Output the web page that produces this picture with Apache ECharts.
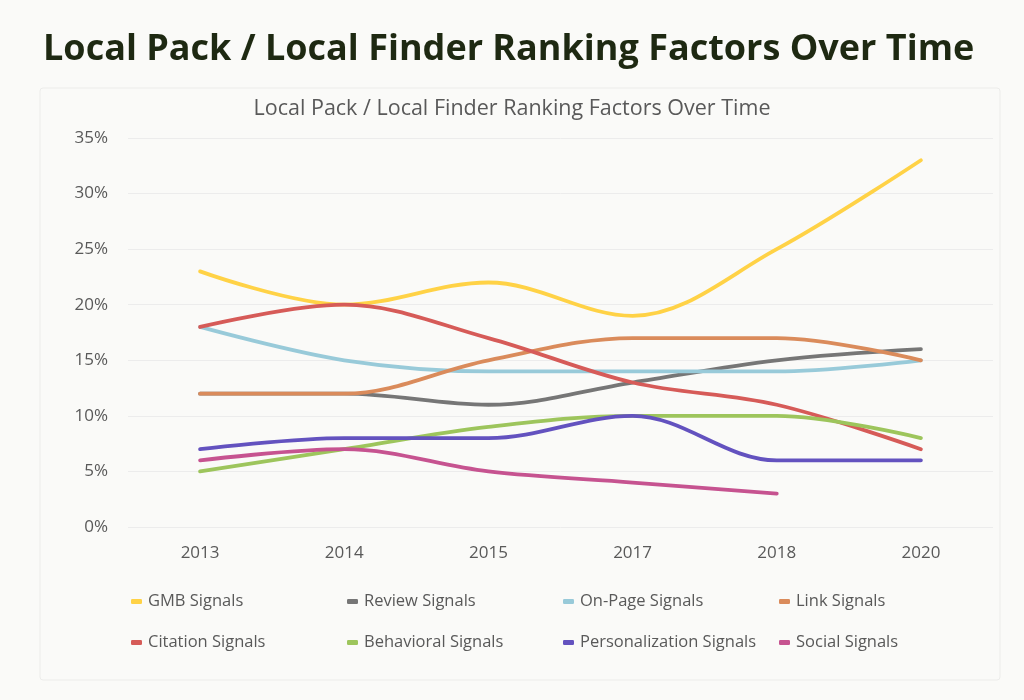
<!DOCTYPE html>
<html><head><meta charset="utf-8">
<script src="https://cdn.jsdelivr.net/npm/echarts@6/dist/echarts.min.js"></script>
<style>html,body{margin:0;padding:0;background:#fafaf8;}#c{width:1024px;height:700px;}</style>
</head><body><div id="c"></div>
<script>
const categories = ['2013','2014','2015','2017','2018','2020'];
const seriesNames = ['GMB Signals','Review Signals','On-Page Signals','Link Signals','Citation Signals','Behavioral Signals','Personalization Signals','Social Signals'];
const gmb = [23, 20, 22, 19, 25, 33];
const review = [12, 12, 11, 13, 15, 16];
const onPage = [18, 15, 14, 14, 14, 15];
const link = [12, 12, 15, 17, 17, 15];
const citation = [18, 20, 17, 13, 11, 7];
const behavioral = [5, 7, 9, 10, 10, 8];
const personalization = [7, 8, 8, 10, 6, 6];
const social = [6, 7, 5, 4, 3, null];
const colors = ['#FFD246','#767676','#98CAD9','#DA8B5B','#D65B58','#9DC55C','#6352BF','#C65390'];
const values = [gmb, review, onPage, link, citation, behavioral, personalization, social];
const font = '"Open Sans", sans-serif';
const legendCols = [126, 342, 558, 774];
const legendRows = [588, 629];
const chart = echarts.init(document.getElementById('c'));
chart.setOption({
  backgroundColor: '#fafaf8',
  graphic: [{type:'rect', shape:{x:40,y:88,width:960,height:592,r:3}, style:{fill:'#fafaf8', stroke:'#ececea', lineWidth:1}, z:-10}],
  title: [
    {text:'Local Pack / Local Finder Ranking Factors Over Time', left:38, top:27, textStyle:{fontFamily:font, fontWeight:'bold', fontSize:36, color:'#1e2912'}},
    {text:'Local Pack / Local Finder Ranking Factors Over Time', left:'center', top:93, textStyle:{fontFamily:font, fontWeight:'normal', fontSize:21.5, color:'#595959'}}
  ],
  color: colors,
  grid: {left:128, right:31, top:138, bottom:173, containLabel:false},
  xAxis: {type:'category', data:categories, boundaryGap:true,
    axisLine:{show:false}, axisTick:{show:false},
    axisLabel:{color:'#595959', fontSize:17, fontFamily:font, margin:18}},
  yAxis: {type:'value', min:0, max:35, interval:5,
    axisLabel:{color:'#595959', fontSize:17, fontFamily:font, formatter: v => v + '%', margin:20},
    splitLine:{lineStyle:{color:'#ececec', width:1}}, axisLine:{show:false}, axisTick:{show:false}},
  legend: seriesNames.map((n,i) => ({
    left: legendCols[i % 4], top: legendRows[Math.floor(i / 4)],
    itemWidth:11, itemHeight:5, icon:'roundRect', itemGap:0, data:[n],
    textStyle:{color:'#595959', fontSize:16.5, fontFamily:font, padding:[0,0,0,1]}
  })),
  series: seriesNames.map((n,i) => ({name:n, type:'line', data:values[i], smooth:0.35, symbol:'none',
    lineStyle:{width:3.8, color:colors[i], cap:'round'}, itemStyle:{color:colors[i]}}))
});
</script></body></html>
